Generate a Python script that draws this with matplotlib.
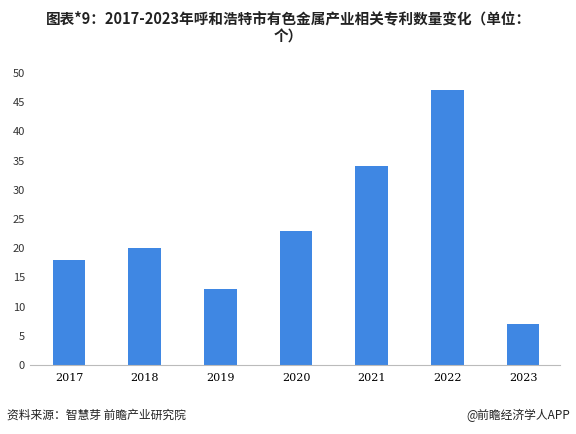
import matplotlib.pyplot as plt

plt.rcParams['font.family'] = ['Noto Sans CJK SC', 'DejaVu Sans']

years = ['2017', '2018', '2019', '2020', '2021', '2022', '2023']
counts = [18, 20, 13, 23, 34, 47, 7]

fig = plt.figure(figsize=(5.76, 4.34), dpi=100)
ax = fig.add_axes([0.052, 0.159, 0.92, 0.673])
ax.bar(range(len(years)), counts, width=0.43, color='#3f87e3')
ax.set_xlim(-0.515, len(years) - 0.515)
ax.set_ylim(0, 50)
ax.set_yticks(range(0, 51, 5))
ax.set_xticks(range(len(years)))
ax.set_xticklabels(years, family='DejaVu Serif', fontsize=8)
ax.tick_params(axis='y', labelsize=8, length=0, labelcolor='#333333')
ax.tick_params(axis='x', length=0, pad=6)
for s in ['top', 'right', 'left']:
    ax.spines[s].set_visible(False)
ax.spines['bottom'].set_color('#bbbbbb')

fig.text(0.5, 0.975, '图表*9：2017-2023年呼和浩特市有色金属产业相关专利数量变化（单位：\n个）',
         ha='center', va='top', fontsize=10.5, fontweight='bold', color='#222222',
         linespacing=1.1)
fig.text(0.012, 0.035, '资料来源：智慧芽 前瞻产业研究院', fontsize=8.5, color='#222222')
fig.text(0.99, 0.035, '@前瞻经济学人APP', fontsize=8.5, color='#222222', ha='right')

fig.savefig('out.png', dpi=100)
